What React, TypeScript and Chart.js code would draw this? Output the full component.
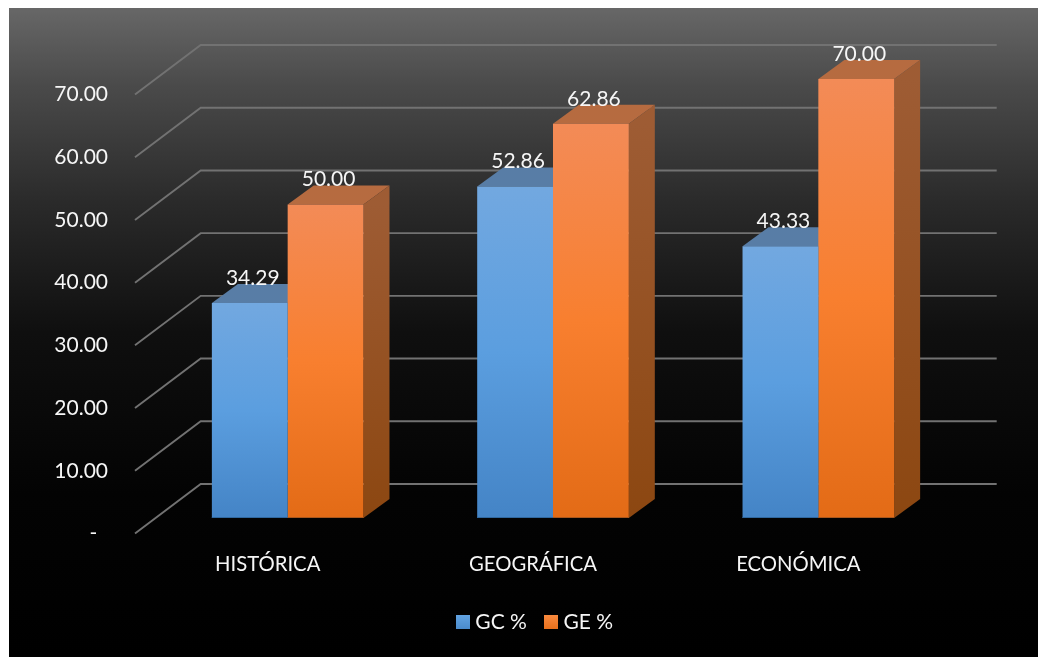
import React, { useEffect, useRef } from "react";
import { Chart, registerables } from "chart.js";

Chart.register(...registerables);

const categories = ["HISTÓRICA", "GEOGRÁFICA", "ECONÓMICA"];
const gcValues = [34.29, 52.86, 43.33];
const geValues = [50.0, 62.86, 70.0];
const seriesNames = ["GC %", "GE %"];
const axisMax = 70;
const axisStep = 10;

const FONT = "Lato, Carlito, sans-serif";
const TEXT = "#f6f6f6";

// projection of the 3D box
const WALL = { dx: 65.7, dy: 49.5 };
const FRONT = { dx: 20, dy: 15.5 };
const BAR = { dx: 26, dy: 19 };

const palette = [
  {
    front: ["#72a8e0", "#5b9edf", "#4484c6"],
    edge: "#30689f",
    top: "#587da6",
    side: ["#4f7aa6", "#2f5d8a"],
    swatch: ["#62a3e2", "#4a8bcc"],
  },
  {
    front: ["#f38b57", "#f87f2f", "#e36b16"],
    edge: "#a9571d",
    top: "#b66b40",
    side: ["#9e5c34", "#8c4711"],
    swatch: ["#f98a3e", "#e8701c"],
  },
];

function makeSwatch(colors: string[]) {
  const c = document.createElement("canvas");
  c.width = 14;
  c.height = 14;
  const g = c.getContext("2d")!;
  const grad = g.createLinearGradient(0, 0, 0, 14);
  grad.addColorStop(0, colors[0]);
  grad.addColorStop(1, colors[1]);
  g.fillStyle = grad;
  g.fillRect(0, 0, 14, 14);
  return c;
}

const box3d = {
  id: "box3d",
  beforeDraw(chart: any) {
    const { ctx, width, height } = chart;
    const g = ctx.createLinearGradient(0, 0, 0, height);
    g.addColorStop(0, "#676767");
    g.addColorStop(0.12, "#4a4a4a");
    g.addColorStop(0.3, "#2a2a2a");
    g.addColorStop(0.5, "#0f0f0f");
    g.addColorStop(0.75, "#030303");
    g.addColorStop(1, "#000000");
    ctx.fillStyle = g;
    ctx.fillRect(0, 0, width, height);
  },
  afterLayout(chart: any) {
    const l = chart.legend;
    const shift = 67;
    l.left += shift;
    l.right += shift;
    const h = l.height;
    l.top = 581.5;
    l.bottom = 581.5 + h;
  },
  beforeDatasetsDraw(chart: any) {
    const { ctx, chartArea: a, scales } = chart;
    ctx.save();
    ctx.strokeStyle = "#727272";
    ctx.lineWidth = 1.9;
    for (const t of scales.y.ticks) {
      const y = scales.y.getPixelForValue(t.value);
      ctx.beginPath();
      ctx.moveTo(a.left, y);
      ctx.lineTo(a.left + WALL.dx, y - WALL.dy);
      ctx.lineTo(a.right + WALL.dx, y - WALL.dy);
      ctx.stroke();
    }
    ctx.restore();

    // top and side faces, behind the library's own bars
    chart.data.datasets.forEach((_: any, di: number) => {
      const meta = chart.getDatasetMeta(di);
      const p = palette[di];
      meta.data.forEach((bar: any) => {
        const { x, y, base, width } = bar.getProps(["x", "y", "base", "width"]);
        const l = x - width / 2 + FRONT.dx;
        const r = x + width / 2 + FRONT.dx;
        const t = y - FRONT.dy;
        const b = base - FRONT.dy;
        ctx.fillStyle = p.top;
        ctx.beginPath();
        ctx.moveTo(l, t);
        ctx.lineTo(l + BAR.dx, t - BAR.dy);
        ctx.lineTo(r + BAR.dx, t - BAR.dy);
        ctx.lineTo(r, t);
        ctx.closePath();
        ctx.fill();
        const sg = ctx.createLinearGradient(0, t, 0, b);
        sg.addColorStop(0, p.side[0]);
        sg.addColorStop(1, p.side[1]);
        ctx.fillStyle = sg;
        ctx.beginPath();
        ctx.moveTo(r, t);
        ctx.lineTo(r + BAR.dx, t - BAR.dy);
        ctx.lineTo(r + BAR.dx, b - BAR.dy);
        ctx.lineTo(r, b);
        ctx.closePath();
        ctx.fill();
      });
    });

    // the front faces are the chart's bars, moved onto their depth plane
    ctx.save();
    ctx.translate(FRONT.dx, -FRONT.dy);
  },
  afterDatasetsDraw(chart: any) {
    const { ctx } = chart;
    // thin darker edge along the foot of each front face
    chart.data.datasets.forEach((_: any, di: number) => {
      chart.getDatasetMeta(di).data.forEach((bar: any) => {
        const { x, base, width } = bar.getProps(["x", "base", "width"]);
        ctx.fillStyle = palette[di].edge;
        ctx.fillRect(x - width / 2, base - 1, width, 1);
      });
    });
    ctx.restore();
    ctx.save();
    ctx.font = `21px ${FONT}`;
    ctx.fillStyle = TEXT;
    ctx.textAlign = "center";
    ctx.textBaseline = "middle";
    chart.data.datasets.forEach((ds: any, di: number) => {
      chart.getDatasetMeta(di).data.forEach((bar: any, i: number) => {
        const { x, y } = bar.getProps(["x", "y"]);
        ctx.fillText(ds.data[i].toFixed(2), x + FRONT.dx + 3, y - FRONT.dy - 25);
      });
    });
    ctx.restore();
  },
};

function frontGradient(c: any, di: number) {
  if (c.raw === undefined) return palette[di].front[1];
  const { chart } = c;
  const yS = chart.scales.y;
  const g = chart.ctx.createLinearGradient(0, yS.getPixelForValue(c.raw), 0, yS.getPixelForValue(0));
  const s = palette[di].front;
  g.addColorStop(0, s[0]);
  g.addColorStop(0.5, s[1]);
  g.addColorStop(1, s[2]);
  return g;
}

export default function App() {
  const ref = useRef<HTMLCanvasElement>(null);
  useEffect(() => {
    const swatches = palette.map((p) => makeSwatch(p.swatch));
    const chart = new Chart(ref.current!, {
      type: "bar",
      data: {
        labels: categories,
        datasets: [gcValues, geValues].map((data, di) => ({
          label: seriesNames[di],
          data,
          backgroundColor: (c: any) => frontGradient(c, di),
          borderWidth: 0,
          categoryPercentage: 0.5714,
          barPercentage: 1,
          clip: false as any,
        })),
      },
      plugins: [box3d],
      options: {
        animation: false,
        responsive: false,
        devicePixelRatio: 1,
        layout: { padding: { top: 86.5, right: 107, left: 0, bottom: 0 } },
        scales: {
          x: {
            grid: { display: false, drawTicks: false },
            border: { display: false },
            ticks: { color: TEXT, font: { family: FONT, size: 20.3 }, padding: 19, maxRotation: 0 },
            afterFit(s: any) {
              s.height = 649 - 525.5 - s.chart.legend.height;
            },
          },
          y: {
            min: 0,
            max: axisMax,
            grid: { display: false, drawTicks: false },
            border: { display: false },
            afterFit(s: any) {
              s.width = 126;
            },
            ticks: {
              stepSize: axisStep,
              color: TEXT,
              font: { family: FONT, size: 21 },
              padding: 27,
              callback: (v: any) => (v === 0 ? "-  " : Number(v).toFixed(2)),
            },
          },
        },
        plugins: {
          tooltip: { enabled: false },
          legend: {
            position: "bottom",
            labels: {
              color: TEXT,
              font: { family: FONT, size: 21 },
              padding: 22,
              usePointStyle: true,
              pointStyleWidth: 4,
              boxHeight: 21,
              generateLabels: () =>
                seriesNames.map((text, i) => ({
                  text,
                  fontColor: TEXT,
                  pointStyle: swatches[i],
                  fillStyle: palette[i].front[1],
                  strokeStyle: "transparent",
                  lineWidth: 0,
                  hidden: false,
                  datasetIndex: i,
                })),
            },
          },
        },
      } as any,
    });
    return () => chart.destroy();
  }, []);
  return (
    <canvas
      ref={ref}
      width={1029}
      height={649}
      style={{ position: "fixed", left: 9, top: 8, display: "block" }}
    />
  );
}
